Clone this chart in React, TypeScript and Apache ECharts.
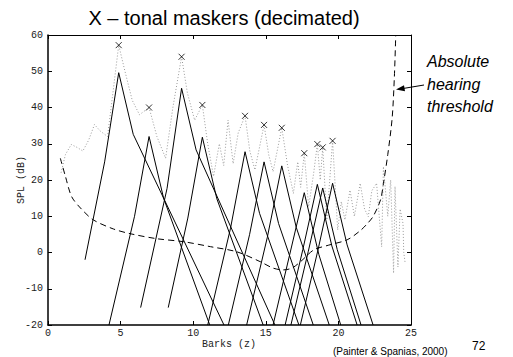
import React, { useEffect, useRef } from "react";
import * as echarts from "echarts";

// Tonal maskers (decimated): bark position and SPL (dB)
const maskerBark = [4.87, 6.96, 9.2, 10.63, 13.57, 14.88, 16.1, 17.65, 18.55, 18.92, 19.6];
const maskerSpl = [57.2, 40, 54, 40.7, 37.7, 35.2, 34.4, 27.4, 29.9, 29.0, 30.8];

// Spreading functions (one vertex list per masker): barks and SPL
const spreadBark = [
  [2.55, 3.9, 4.87, 5.87, 12.12],
  [4.2, 5.96, 6.96, 7.96, 11.14],
  [6.38, 8.2, 9.2, 10.2, 15.63],
  [8.28, 9.63, 10.63, 11.63, 14.82],
  [11.0, 12.57, 13.57, 14.57, 17.28],
  [12.42, 13.88, 14.88, 15.88, 18.27],
  [13.68, 15.1, 16.1, 17.1, 19.37],
  [15.5, 16.65, 17.65, 18.65, 20.16],
  [16.33, 17.55, 18.55, 19.55, 21.29],
  [16.73, 17.92, 18.92, 19.92, 21.56],
  [17.38, 18.6, 19.6, 20.6, 22.39],
];
const spreadSpl = [
  [-2, 25, 49.6, 32.6, -20],
  [-20, 10, 32, 15, -20],
  [-15.2, 17.7, 45.3, 28.3, -20],
  [-15.2, 9.5, 31.8, 14.8, -20],
  [-20, 6.7, 27.8, 10.8, -20],
  [-20, 4.9, 25, 8, -20],
  [-20, 4.1, 23.9, 6.9, -20],
  [-20, -0.5, 16.5, -0.5, -20],
  [-20, 0.8, 18.8, 1.8, -20],
  [-20, 0.2, 17.8, 0.8, -20],
  [-20, 0.8, 19.1, 2.1, -20],
];

// Power spectral density (dotted)
const psdBark = [
  0.9, 1.2, 1.6, 2.0, 2.4, 2.8, 3.2, 3.6, 4.1, 4.5, 4.87, 5.3, 5.8, 6.3, 6.96, 7.5, 8.1, 8.6, 9.2, 9.6,
  10.1, 10.63, 11.0, 11.4, 11.8, 12.1, 12.4, 12.75, 13.1, 13.57, 13.9, 14.25, 14.88, 15.2, 15.5, 16.1,
  16.5, 16.9, 17.2, 17.4, 17.65, 17.95, 18.3, 18.55, 18.75, 18.92, 19.2, 19.6, 19.95, 20.2, 20.45, 20.8,
  21.1, 21.5, 21.8, 22.06, 22.3, 22.63, 22.98, 23.1, 23.4, 23.6, 23.8, 23.9, 24.1, 24.25, 24.45, 24.5, 24.6,
];
const psdSpl = [
  22, 27, 29.8, 29, 28, 31, 35.3, 33.5, 32, 45, 57.2, 50, 42, 38, 40, 32, 26, 40, 54, 44,
  36.5, 40.7, 30, 21, 30, 24, 36.5, 24.5, 33, 37.7, 28, 22.8, 35.2, 27, 22.3, 34.4,
  24, 16.3, 25, 18, 27.4, 12.6, 22, 29.9, 20, 29, 9, 30.8, 6.2, 14, 9, 17.2,
  10, 19.1, 12, 9.9, 17, 19.1, 1.6, 23.7, 10, 20, -5.7, 18.2, -4, 12, 8, 0, -3,
];

// Absolute hearing threshold (dashed)
const athBark = [0.85, 1.2, 1.63, 2.3, 3.12, 4.5, 5.65, 7.5, 9.3, 11.2, 13.0, 14.6, 15.5, 16.2, 16.8, 17.4, 18.3, 19.3, 20.6, 21.5, 22.0, 22.4, 22.9, 23.1, 23.4, 23.7, 23.85, 23.95];
const athSpl = [26, 21, 15.4, 12, 9, 6.5, 5.2, 3.8, 3, 1.6, 0.2, -2.5, -4.3, -4.8, -4.3, -2.5, 0.7, 2, 3.5, 6, 8, 10, 14.5, 19, 27, 37, 48, 60];

const xTicks = [0, 5, 10, 15, 20, 25];
const yTicks = [-20, -10, 0, 10, 20, 30, 40, 50, 60];

const MONO = "'Liberation Mono', 'DejaVu Sans Mono', monospace";
const SANS = "'Liberation Sans', Arial, sans-serif";

export default function App() {
  const ref = useRef<HTMLDivElement>(null);
  useEffect(() => {
    if (!ref.current) return;
    const chart = echarts.init(ref.current, undefined, { renderer: "svg" });
    const zip = (a: number[], b: number[]) => a.map((v, i) => [v, b[i]]);
    const axisLine = { show: true, onZero: false, lineStyle: { color: "#000", width: 1 } };
    const mainLine = { show: true, onZero: false, lineStyle: { color: "#000", width: 1.5 } };
    const tick = { show: true, inside: true, length: 4, lineStyle: { color: "#000" } };
    const series: any[] = [];
    spreadBark.forEach((b, i) => {
      series.push({
        type: "line",
        data: zip(b, spreadSpl[i]),
        showSymbol: false,
        lineStyle: { color: "#000", width: 1 },
        silent: true,
        z: 3,
      });
    });
    series.push({
      type: "line",
      data: zip(psdBark, psdSpl),
      showSymbol: false,
      lineStyle: { color: "#999", width: 1, type: [1, 2] },
      silent: true,
      z: 2,
    });
    series.push({
      type: "line",
      data: zip(athBark, athSpl),
      showSymbol: false,
      smooth: 0.3,
      lineStyle: { color: "#000", width: 1, type: [6, 4] },
      silent: true,
      z: 3,
    });
    series.push({
      type: "scatter",
      data: zip(maskerBark, maskerSpl),
      symbol: "path://M0 0L10 10M10 0L0 10",
      symbolSize: 6,
      itemStyle: { color: "none", borderColor: "#000", borderWidth: 1 },
      silent: true,
      z: 5,
    });
    chart.setOption({
      animation: false,
      grid: { left: 48, right: 102, top: 35, bottom: 32, containLabel: false },
      xAxis: [
        {
          type: "value", min: xTicks[0], max: xTicks[xTicks.length - 1], interval: 5, position: "bottom",
          axisLine: mainLine, axisTick: tick,
          axisLabel: { fontFamily: MONO, fontSize: 10, color: "#222", margin: 3 },
          splitLine: { show: false },
        },
        {
          type: "value", min: xTicks[0], max: xTicks[xTicks.length - 1], interval: 5, position: "top",
          axisLine, axisTick: tick, axisLabel: { show: false }, splitLine: { show: false },
        },
      ],
      yAxis: [
        {
          type: "value", min: yTicks[0], max: yTicks[yTicks.length - 1], interval: 10, position: "left",
          axisLine: mainLine, axisTick: tick,
          axisLabel: { fontFamily: MONO, fontSize: 10, color: "#222", margin: 5 },
          splitLine: { show: false },
        },
        {
          type: "value", min: yTicks[0], max: yTicks[yTicks.length - 1], interval: 10, position: "right",
          axisLine, axisTick: tick, axisLabel: { show: false }, splitLine: { show: false },
        },
      ],
      series,
      graphic: [
        {
          type: "text", x: 224, y: 18,
          style: { text: "X \u2013 tonal maskers (decimated)", font: `20px ${SANS}`, fill: "#000", textAlign: "center", textVerticalAlign: "middle" },
        },
        {
          type: "text", x: 21, y: 180, rotation: Math.PI / 2,
          style: { text: "SPL (dB)", font: `10px ${MONO}`, fill: "#222", textAlign: "center", textVerticalAlign: "middle" },
        },
        {
          type: "text", x: 229, y: 344,
          style: { text: "Barks (z)", font: `10px ${MONO}`, fill: "#222", textAlign: "center", textVerticalAlign: "middle" },
        },
        {
          type: "text", x: 427, y: 61,
          style: { text: "Absolute", font: `italic 16px ${SANS}`, fill: "#000", textAlign: "left", textVerticalAlign: "middle" },
        },
        {
          type: "text", x: 427, y: 84,
          style: { text: "hearing", font: `italic 16px ${SANS}`, fill: "#000", textAlign: "left", textVerticalAlign: "middle" },
        },
        {
          type: "text", x: 427, y: 106,
          style: { text: "threshold", font: `italic 16px ${SANS}`, fill: "#000", textAlign: "left", textVerticalAlign: "middle" },
        },
        {
          type: "line", shape: { x1: 424, y1: 85, x2: 400, y2: 89 },
          style: { stroke: "#000", lineWidth: 1 },
        },
        {
          type: "polygon", shape: { points: [[396, 89.6], [404, 85.2], [405, 91.2]] },
          style: { fill: "#000" },
        },
        {
          type: "text", x: 333, y: 351,
          style: { text: "(Painter & Spanias, 2000)", font: `10px ${SANS}`, fill: "#000", textAlign: "left", textVerticalAlign: "middle" },
        },
        {
          type: "text", x: 472, y: 346,
          style: { text: "72", font: `12px ${SANS}`, fill: "#000", textAlign: "left", textVerticalAlign: "middle" },
        },
      ],
    });
    return () => chart.dispose();
  }, []);
  return <div ref={ref} style={{ position: "absolute", left: 0, top: 0, width: 513, height: 357 }} />;
}
